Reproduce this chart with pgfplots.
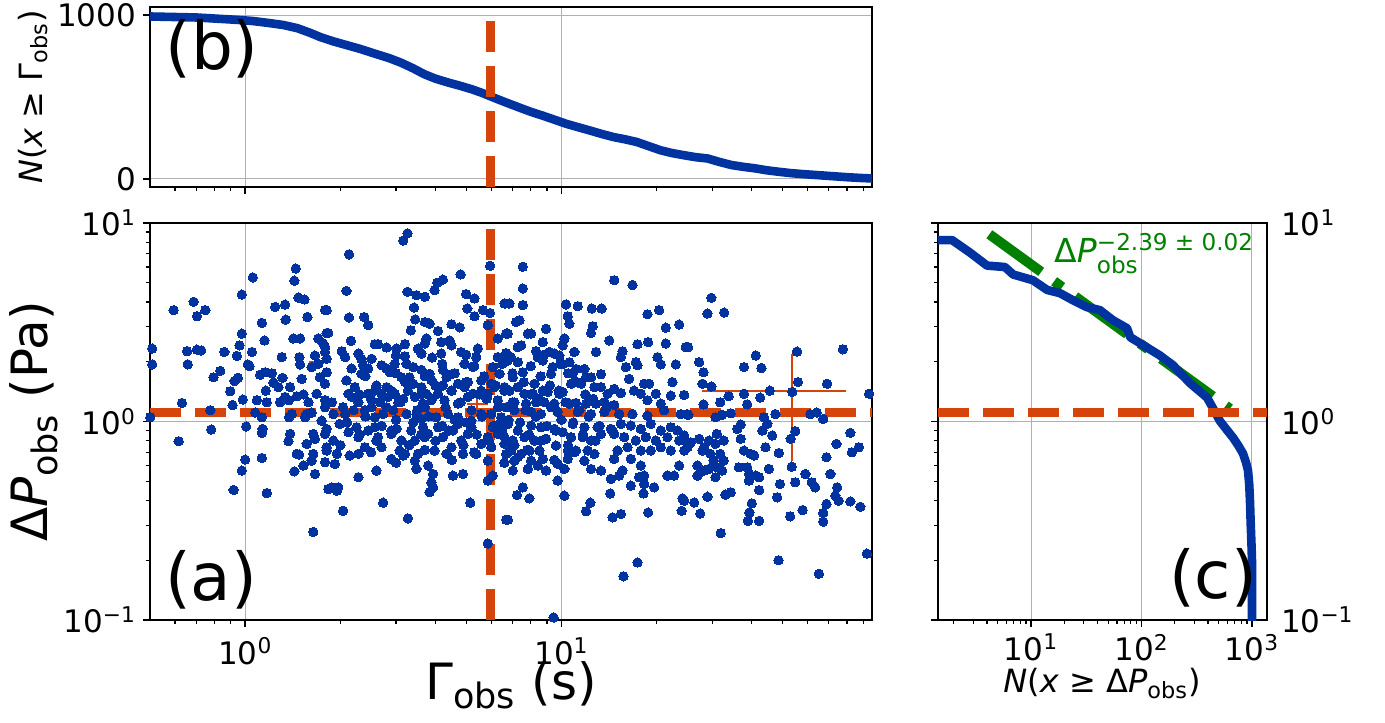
\documentclass[border=0pt]{standalone}
\usepackage{fontspec}
\setmainfont{DejaVu Sans}
\usepackage{amsmath}
\usepackage{pgfplots}
\pgfplotsset{compat=1.18}
\definecolor{myblue}{RGB}{0,51,160}
\definecolor{myorange}{RGB}{213,68,11}
\definecolor{mygreen}{RGB}{0,128,0}
\definecolor{gridgray}{RGB}{176,176,176}
\newcommand{\tp}[1]{10\textsuperscript{#1}}
\pgfplotsset{
  base/.style={scale only axis, anchor=south west,
    axis line style={line width=0.8pt,black},
    tick align=outside,
    major tick length=3.5pt, minor tick length=2pt,
    major tick style={line width=0.8pt,black},
    minor tick style={line width=0.6pt,black},
    xmajorgrids, ymajorgrids,
    major grid style={line width=0.5pt,gridgray},
    tick label style={font=\fontsize{15.5}{18}\selectfont},
    xtick pos=bottom, ytick pos=left},
  odash/.style={myorange, line width=4.2pt, dash pattern=on 15.5pt off 7pt},
  bline/.style={myblue, line width=4.3pt, line join=round},
  dots/.style={only marks, mark=*, mark size=2.35pt, mark options={fill=myblue, draw=myblue, line width=0pt}}
}
\begin{document}
\begin{tikzpicture}
\path[use as bounding box] (0,0) rectangle (692.5pt,361pt);

% ---------------- panel (b) ----------------
\begin{axis}[base, at={(75pt,267.5pt)}, width=361pt, height=90pt,
  xmode=log, xmin=0.5, xmax=96, ymin=-49, ymax=1050,
  xtick={1,10}, xticklabels={},
  minor xtick={0.6,0.7,0.8,0.9,2,3,4,5,6,7,8,9,20,30,40,50,60,70,80,90},
  ytick={0,1000}, yticklabels={0,1000}]
\addplot[bline] table {
0.5 992
0.70 986
0.933 972
1.05 965
1.19 952
1.32 940
1.46 921
1.60 893
1.73 866
1.90 840
2.06 821
2.30 795
2.62 760
2.85 738
3.11 710
3.40 675
3.69 639
4.00 612
4.38 589
4.80 568
5.20 548
5.60 526
6.08 498
6.70 466
7.34 437
8.00 410
8.71 387
9.50 362
10.35 337
11.3 316
12.3 296
13.4 275
14.6 256
15.9 242
17.3 226
18.9 200
20.6 175
22.4 158
24.4 145
26.6 133
29.0 125
31.6 104
34.5 85
37.6 74
40.9 65
44.6 53
48.6 44
53.0 36
57.7 30
62.9 25
68.5 20
74.6 15
81.3 10
88.6 6
96 3
};
\addplot[odash] coordinates {(5.96,-49) (5.96,1050)};
\end{axis}

% ---------------- panel (a) ----------------
\begin{axis}[base, at={(75pt,51pt)}, width=361pt, height=198.5pt,
  xmode=log, ymode=log, xmin=0.5, xmax=96, ymin=0.1, ymax=10,
  xtick={1,10}, xticklabels={\tp{0},\tp{1}},
  xticklabel style={inner sep=1pt, yshift=-4.2pt},
  minor xtick={0.6,0.7,0.8,0.9,2,3,4,5,6,7,8,9,20,30,40,50,60,70,80,90},
  ytick={0.1,1,10}, yticklabels={\tp{−1},\tp{0},\tp{1}},
  minor ytick={0.2,0.3,0.4,0.5,0.6,0.7,0.8,0.9,2,3,4,5,6,7,8,9}]
\addplot[odash] coordinates {(0.5,1.11) (96,1.11)};
\addplot[odash] coordinates {(5.96,0.1) (5.96,10)};
\addplot[dots] table {
0.508 2.33
0.508 1.94
0.501 1.05
0.594 3.64
0.687 4.01
0.704 3.39
0.748 3.64
0.655 2.26
0.704 2.30
0.726 2.28
0.658 1.94
0.631 1.24
0.616 0.796
0.776 1.14
0.781 0.911
0.794 1.67
0.834 1.80
0.859 2.24
0.897 1.42
0.912 1.21
0.925 1.60
0.948 1.66
0.941 2.14
0.960 2.42
0.976 2.77
0.976 4.36
1.057 5.32
1.050 2.24
1.019 1.94
1.032 1.90
0.983 1.29
1.007 0.944
1.0 0.643
0.976 0.566
0.919 0.452
1.075 1.11
1.089 1.28
1.129 1.05
1.135 0.918
1.129 0.877
1.129 0.655
1.170 0.436
1.129 3.14
1.151 2.56
1.115 1.72
1.156 1.77
1.214 1.75
1.228 1.57
1.162 1.43
1.170 1.25
1.244 3.78
1.337 3.88
1.343 3.26
1.305 2.11
1.312 1.66
1.274 1.49
1.289 1.25
1.387 1.49
1.337 1.33
1.376 1.28
1.376 1.05
1.403 1.09
1.387 0.866
1.370 0.796
1.445 5.90
1.431 5.12
1.473 4.21
1.539 4.12
1.573 3.36
1.420 2.62
1.491 2.62
1.484 2.11
1.491 1.94
1.509 1.64
1.456 1.34
1.528 1.37
1.585 1.25
1.565 1.09
1.546 1.05
1.622 1.11
1.456 0.687
1.480 0.681
1.431 0.561
1.528 0.600
1.565 0.771
1.642 0.866
1.662 0.817
1.642 0.687
1.622 0.635
1.662 0.544
1.642 0.278
1.703 2.62
1.766 2.47
1.662 2.15
1.703 1.95
1.788 2.24
1.622 1.88
1.724 1.67
1.788 1.55
1.683 1.38
1.788 1.18
1.745 1.01
1.788 0.866
1.810 0.742
1.788 0.624
1.832 0.457
1.788 3.64
1.810 2.79
3.26 8.87
3.16 8.15
2.13 6.95
5.95 6.09
4.80 5.51
4.22 5.19
4.05 5.00
2.09 4.55
3.26 4.50
3.48 4.33
3.70 4.25
3.97 4.59
5.00 4.38
5.31 4.17
1.81 3.64
3.42 3.75
5.04 3.71
5.65 3.64
5.95 3.52
5.31 3.39
2.13 3.34
2.38 3.36
2.45 3.06
1.83 2.79
3.45 3.27
3.70 3.17
3.83 3.11
3.34 2.88
4.07 2.86
4.49 3.09
4.77 2.98
5.85 3.06
6.61 3.93
6.69 2.77
6.29 2.62
2.16 2.55
1.79 2.37
2.02 2.26
2.07 2.11
2.57 2.45
2.63 2.45
2.80 2.36
3.01 2.33
3.20 2.45
3.20 2.13
3.24 1.95
3.52 2.33
3.70 2.47
3.74 2.62
3.61 2.20
4.17 2.51
4.43 2.56
4.49 2.42
4.17 2.20
4.82 2.24
5.44 2.33
5.38 2.11
4.94 1.95
5.25 1.88
6.29 2.11
6.69 2.21
1.81 2.07
2.28 2.20
2.33 2.07
2.36 1.92
2.51 2.07
2.45 1.85
2.33 1.74
2.17 1.85
2.09 1.61
1.81 1.77
2.80 1.85
2.97 1.95
2.87 1.77
3.12 1.67
3.31 1.67
3.40 1.55
3.61 1.82
3.83 1.74
3.88 1.62
4.22 1.82
4.33 1.67
4.49 1.73
4.71 1.55
5.06 1.58
5.58 1.61
6.07 1.88
6.37 1.74
6.00 1.55
6.69 2.03
1.79 1.28
1.88 1.25
2.04 1.18
2.12 1.38
2.22 1.49
2.28 1.25
2.17 1.33
2.45 1.38
2.57 1.43
2.70 1.38
2.67 1.25
2.51 1.18
2.80 1.49
2.83 1.33
2.97 1.38
3.05 1.25
3.16 1.30
3.27 1.43
3.35 1.55
3.44 1.33
3.61 1.49
3.65 1.23
3.74 1.38
3.70 1.18
3.88 1.28
4.07 1.38
4.22 1.52
4.27 1.28
4.49 1.43
4.71 1.23
4.94 1.49
5.06 1.33
5.25 1.38
5.58 1.43
5.85 1.38
6.14 1.49
6.29 1.28
6.61 1.49
6.69 1.18
1.90 1.09
2.07 1.09
2.39 1.14
2.57 1.05
2.73 1.09
2.94 1.14
3.24 1.09
3.48 1.09
3.61 1.03
4.02 1.05
4.38 1.09
4.71 1.05
5.19 1.01
5.58 1.09
6.00 1.09
6.45 1.05
1.81 0.918
1.99 0.973
1.90 0.802
1.81 0.714
1.95 0.687
2.12 0.883
2.25 0.936
2.28 0.834
2.45 0.901
2.57 0.936
2.63 0.834
2.39 0.742
2.28 0.687
2.14 0.674
1.92 0.611
2.70 0.742
2.90 0.866
3.01 0.918
3.12 0.802
3.08 0.714
3.20 0.687
3.35 0.901
3.44 0.802
3.65 0.936
3.70 0.834
3.52 0.687
3.44 0.635
3.79 0.866
3.97 0.714
4.07 0.936
4.22 0.834
4.33 0.687
4.49 0.742
4.54 0.901
4.71 0.973
4.82 0.802
4.88 0.687
5.06 0.866
5.19 0.936
5.38 0.687
5.58 0.771
5.85 0.834
6.00 0.742
6.07 0.936
6.29 0.866
6.61 0.771
6.69 0.687
6.37 0.973
2.90 0.648
3.16 0.674
3.48 0.577
3.79 0.600
3.93 0.544
3.88 0.494
3.93 0.466
3.83 0.440
4.54 0.534
4.88 0.544
5.85 0.504
6.07 0.534
5.85 0.635
2.28 0.524
2.60 0.566
1.88 0.466
1.97 0.466
1.95 0.448
2.04 0.355
2.73 0.390
3.27 0.325
5.15 0.390
6.69 0.320
5.85 0.243
7.55 6.02
7.55 4.68
14.69 5.15
16.78 4.87
7.55 3.86
10.34 3.89
11.26 3.81
12.47 3.71
13.40 3.71
6.85 3.93
6.61 3.93
10.47 3.39
10.60 3.11
12.56 3.02
12.41 2.79
18.71 3.47
20.37 3.64
21.38 2.97
23.56 3.08
7.19 3.17
7.37 3.24
6.77 2.77
7.83 2.77
8.02 2.77
8.94 2.93
14.17 2.56
10.22 2.62
10.09 2.42
8.73 2.51
7.28 2.37
7.46 2.42
8.32 2.26
9.16 2.24
9.50 2.20
9.85 2.15
10.99 2.24
12.87 2.24
15.60 2.26
17.40 2.45
18.80 2.51
21.38 2.47
24.74 2.37
15.42 2.11
15.99 1.88
17.19 1.99
17.40 1.92
20.12 2.11
20.62 1.94
23.0 1.94
6.61 2.11
6.77 2.03
7.28 1.99
7.55 1.77
7.02 1.67
8.42 2.11
8.73 2.03
9.38 1.88
9.27 1.74
10.09 1.95
10.60 1.99
11.12 1.84
11.82 1.84
10.86 1.74
11.97 1.67
12.41 1.67
13.34 1.73
16.38 1.64
22.44 1.58
11.54 1.55
10.73 1.55
8.22 1.55
7.28 1.49
6.85 1.43
7.64 1.38
8.12 1.38
8.73 1.43
9.05 1.41
9.85 1.38
10.09 1.41
12.71 1.49
13.34 1.49
14.00 1.38
14.69 1.46
15.42 1.39
16.98 1.43
18.27 1.55
18.94 1.55
17.83 1.38
19.88 1.38
18.71 1.28
22.17 1.35
20.62 1.23
7.10 1.25
7.73 1.23
8.32 1.25
8.83 1.25
9.27 1.18
9.50 1.23
10.60 1.23
11.12 1.24
11.97 1.23
12.87 1.23
13.67 1.25
14.69 1.21
8.02 1.12
7.10 1.14
8.62 1.09
9.73 1.12
11.26 1.12
12.41 1.09
13.67 1.12
15.23 1.09
16.78 1.09
18.71 1.07
21.12 1.14
23.85 1.09
25.04 1.09
6.77 0.973
7.28 0.901
8.02 0.954
8.62 0.936
9.50 0.918
10.09 0.883
10.86 0.973
11.82 0.936
13.02 0.936
14.34 0.918
15.42 0.973
16.58 0.954
17.83 0.918
19.17 0.973
20.62 0.901
22.17 0.936
23.28 0.901
6.61 0.834
7.02 0.802
7.64 0.834
8.22 0.802
8.94 0.818
9.61 0.757
10.73 0.834
11.68 0.834
12.41 0.802
13.34 0.866
14.69 0.866
15.80 0.834
17.19 0.802
18.49 0.834
19.88 0.802
21.64 0.834
23.56 0.802
25.04 0.771
6.94 0.714
7.46 0.687
7.92 0.714
8.52 0.714
8.73 0.648
10.47 0.714
11.12 0.714
12.11 0.714
12.71 0.687
15.05 0.714
16.19 0.742
17.83 0.714
19.17 0.714
20.62 0.742
22.17 0.714
24.44 0.714
7.10 0.635
7.28 0.661
8.02 0.635
7.83 0.577
8.42 0.600
8.94 0.566
9.73 0.611
10.47 0.648
10.22 0.577
11.82 0.635
12.41 0.577
13.34 0.566
14.69 0.648
15.60 0.566
15.23 0.534
16.58 0.648
17.83 0.600
18.27 0.534
17.61 0.524
16.58 0.475
18.27 0.484
19.64 0.466
21.64 0.534
22.72 0.534
23.56 0.600
14.34 0.514
9.73 0.504
7.02 0.566
7.55 0.466
7.24 0.426
7.92 0.410
10.22 0.423
14.27 0.434
18.18 0.434
12.35 0.390
11.97 0.353
15.42 0.342
14.51 0.329
18.80 0.348
24.14 0.410
24.0 0.355
6.77 0.320
17.40 0.195
15.72 0.166
9.45 0.103
29.8 4.20
28.97 3.50
32.7 3.54
25.16 2.37
41.2 2.15
37.8 1.88
42.9 1.86
27.27 1.99
28.14 1.77
27.94 1.55
29.8 1.50
55.6 2.25
77.7 2.31
56.0 1.58
69.2 1.55
45.6 1.43
53.7 1.41
37.8 1.38
38.7 1.22
42.5 1.32
33.8 1.34
31.8 1.25
28.14 1.22
24.44 1.36
94 1.38
25.2 1.08
30.7 1.05
34.3 1.10
32.2 1.08
43.7 1.05
47.5 1.09
61.3 1.09
64.2 1.11
67.3 1.03
36.9 0.966
36.0 0.918
44.8 0.973
43.2 0.901
46.4 0.850
54.9 0.894
53.1 0.818
82.0 0.877
74.1 0.771
44.2 0.742
48.7 0.694
87.2 0.742
82.9 0.700
68.9 0.661
24.44 0.850
25.04 0.742
27.27 0.818
25.66 0.786
28.28 0.742
29.3 0.802
31.0 0.866
32.6 0.802
30.7 0.771
29.6 0.687
31.8 0.687
32.6 0.635
30.3 0.635
27.94 0.714
36.9 0.818
37.8 0.714
39.7 0.687
40.7 0.674
26.94 0.600
28.28 0.566
29.3 0.577
31.0 0.588
32.2 0.566
36.4 0.588
38.7 0.588
39.2 0.544
41.2 0.534
42.2 0.524
39.2 0.504
45.3 0.577
53.5 0.592
59.1 0.544
54.9 0.494
61.9 0.494
63.5 0.466
70.9 0.544
74.5 0.466
73.5 0.423
68.9 0.384
75.3 0.399
82.0 0.396
88.2 0.372
24.44 0.399
26.3 0.391
27.47 0.344
28.97 0.418
26.94 0.534
30.7 0.524
33.0 0.428
34.3 0.440
42.2 0.451
48.1 0.415
49.1 0.484
40.0 0.387
39.3 0.348
38.9 0.316
42.2 0.316
52.9 0.333
57.9 0.358
67.3 0.346
67.3 0.313
31.9 0.274
48.6 0.200
92.5 0.216
65.2 0.171
2.0 0.76
2.6 0.80
3.3 0.76
4.0 0.80
4.9 0.76
5.9 0.80
7.1 0.76
8.6 0.80
10.5 0.76
12.8 0.80
2.3 0.86
2.9 0.90
3.6 0.86
4.4 0.90
5.4 0.86
6.5 0.90
7.9 0.86
9.6 0.90
11.7 0.86
14.5 0.90
2.1 0.99
2.7 0.95
3.4 0.99
4.2 0.95
5.0 0.99
6.1 0.95
7.4 0.99
9.0 0.95
10.9 0.99
13.2 0.95
2.4 1.06
3.0 1.02
3.8 1.06
4.6 1.02
5.6 1.06
6.8 1.02
8.3 1.06
10.0 1.02
12.2 1.06
2.2 1.14
2.8 1.18
3.5 1.14
4.3 1.18
5.2 1.14
6.3 1.18
7.7 1.14
9.3 1.18
11.4 1.14
13.9 1.18
2.5 1.30
3.1 1.25
3.9 1.30
4.8 1.25
5.8 1.30
7.0 1.25
8.5 1.30
10.3 1.25
12.6 1.30
2.3 1.37
2.9 1.43
3.6 1.37
4.5 1.43
5.5 1.37
6.6 1.43
8.0 1.37
9.8 1.43
11.9 1.37
2.6 1.52
3.2 1.58
4.0 1.52
5.0 1.58
6.2 1.52
7.6 1.58
9.2 1.52
11.2 1.58
2.4 1.69
3.0 1.75
3.7 1.69
4.6 1.75
5.7 1.69
7.0 1.75
8.6 1.69
10.5 1.75
2.7 1.92
3.4 1.88
4.2 1.95
5.3 1.90
6.5 1.95
8.0 1.90
9.9 1.95
2.5 0.70
3.7 0.72
5.3 0.70
7.8 0.72
11.0 0.70
3.0 0.62
4.5 0.64
6.6 0.62
9.5 0.64
3.0 2.15
3.9 2.10
5.0 2.17
6.9 2.12
8.8 2.17
};
\addplot[myorange, line width=1.1pt] coordinates {(27.8,1.42) (79.3,1.42)};
\addplot[myorange, line width=1.1pt] coordinates {(53.7,0.635) (53.7,2.18)};
\addplot[myorange, line width=1.1pt] coordinates {(5.04,1.23) (5.87,1.23)};
\addplot[myorange, line width=1.1pt] coordinates {(5.41,1.16) (5.41,1.30)};
\addplot[myorange, line width=1.1pt] coordinates {(1.59,1.99) (1.68,1.99)};
\end{axis}

% ---------------- panel (c) ----------------
\begin{axis}[base, at={(469pt,51pt)}, width=164.5pt, height=198.5pt,
  xmode=log, ymode=log, xmin=1.44, xmax=1368, ymin=0.1, ymax=10,
  xtick={10,100,1000}, xticklabels={\tp{1},\tp{2},\tp{3}},
  minor xtick={2,3,4,5,6,7,8,9,20,30,40,50,60,70,80,90,200,300,400,500,600,700,800,900},
  ytick={0.1,1,10}, yticklabels={\tp{−1},\tp{0},\tp{1}},
  minor ytick={0.2,0.3,0.4,0.5,0.6,0.7,0.8,0.9,2,3,4,5,6,7,8,9},
  yticklabel pos=right, ytick pos=left]
\addplot[mygreen, line width=5pt, dash pattern=on 32pt off 8pt on 5pt off 8pt] coordinates {(4.2,8.77) (632,1.16)};
\addplot[bline] table {
1.44 8.2
1.93 8.2
2.8 7.1
4.0 6.1
5.8 6.0
6.9 5.5
10.4 5.15
14 4.6
18.3 4.43
24 4.08
32 3.77
42 3.64
55 3.24
74 2.95
79 2.66
112 2.36
147 2.15
193 1.92
275 1.56
392 1.32
450 1.15
513 1.005
590 0.91
673 0.83
760 0.75
830 0.689
885 0.62
921 0.566
945 0.48
959 0.40
975 0.30
990 0.24
1000 0.20
1000 0.09
};
\addplot[odash] coordinates {(1.44,1.11) (1368,1.11)};
\end{axis}

% ---------------- labels ----------------
\node[font=\fontsize{33}{36}\selectfont, inner sep=0pt] at (106pt,336.5pt) {(b)};
\node[font=\fontsize{33}{36}\selectfont, inner sep=0pt] at (105.5pt,71pt) {(a)};
\node[font=\fontsize{33}{36}\selectfont, inner sep=0pt] at (606.5pt,72pt) {(c)};
\node[rotate=90, anchor=base, inner sep=0pt, font=\fontsize{16}{18}\selectfont] at (21pt,312.5pt) {\textit{N}(\textit{x} ≥ Γ$_{\text{obs}}$)};
\node[rotate=90, anchor=base, inner sep=0pt, font=\fontsize{25}{28}\selectfont] at (24pt,150.5pt) {Δ\textit{P}$_{\text{obs}}$ (Pa)};
\node[anchor=base, inner sep=0pt, font=\fontsize{25}{28}\selectfont] at (255.5pt,11.5pt) {Γ$_{\text{obs}}$ (s)};
\node[anchor=base, inner sep=0pt, font=\fontsize{16}{18}\selectfont] at (551pt,14.5pt) {\textit{N}(\textit{x} ≥ Δ\textit{P}$_{\text{obs}}$)};
\node[anchor=base west, text=mygreen, font=\fontsize{16.5}{18}\selectfont, inner sep=0pt] at (527pt,229.5pt) {Δ\textit{P}$_{\text{obs}}^{\text{−2.39 ± 0.02}}$};
\end{tikzpicture}
\end{document}
